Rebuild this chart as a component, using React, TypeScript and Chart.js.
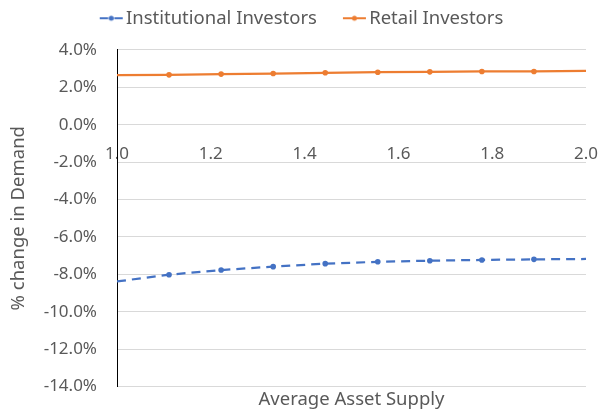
import React, { useEffect, useRef } from 'react';
import { Chart, registerables } from 'chart.js';

Chart.register(...registerables);

// ---- data ----
const supplyLevels = [1.0, 1.111, 1.222, 1.333, 1.444, 1.556, 1.667, 1.778, 1.889, 2.0];
const institutionalChange = [-8.38, -8.02, -7.77, -7.59, -7.43, -7.33, -7.27, -7.23, -7.2, -7.18];
const retailChange = [2.65, 2.67, 2.71, 2.74, 2.78, 2.81, 2.83, 2.85, 2.85, 2.88];
const seriesNames = ['Institutional Investors', 'Retail Investors'];
const xAxisTitle = 'Average Asset Supply';
const yAxisTitle = '% change in Demand';
const yMin = -14;
const yMax = 4;
const yStep = 2;
const xMin = 1;
const xMax = 2;
const xStep = 0.2;

const FONT = '"Noto Sans", sans-serif';
const TEXT = '#595959';
const BLUE = '#4472C4';
const ORANGE = '#ED7D31';

function legendSymbol(color: string, dashed: boolean): HTMLCanvasElement {
  const c = document.createElement('canvas');
  c.width = 50;
  c.height = 8;
  const g = c.getContext('2d')!;
  g.strokeStyle = color;
  g.fillStyle = color;
  g.lineWidth = 2;
  const left = 25;
  const right = 48;
  const mid = (left + right) / 2;
  g.beginPath();
  if (dashed) {
    g.moveTo(left, 4);
    g.lineTo(mid - 3, 4);
    g.moveTo(mid + 3, 4);
    g.lineTo(right, 4);
  } else {
    g.moveTo(left, 4);
    g.lineTo(right, 4);
  }
  g.stroke();
  g.beginPath();
  g.arc(mid, 4, 2.5, 0, Math.PI * 2);
  g.fill();
  return c;
}

function pointSizes(n: number): number[] {
  return supplyLevels.map((_, i) => (i === 0 || i === n - 1 ? 0 : 2.8));
}

const noSidePadding = (s: any) => {
  s.paddingLeft = 0;
  s.paddingRight = 0;
};

export default function App() {
  const ref = useRef<HTMLCanvasElement | null>(null);

  useEffect(() => {
    document.body.style.margin = '0';
    const canvas = ref.current;
    if (!canvas) return;
    const symbols = [legendSymbol(BLUE, true), legendSymbol(ORANGE, false)];
    const tickFont = { family: FONT, size: 17 };
    const textFont = { family: FONT, size: 18.5 };

    const chart = new Chart(canvas, {
      type: 'line',
      data: {
        datasets: [
          {
            label: seriesNames[0],
            data: supplyLevels.map((x, i) => ({ x, y: institutionalChange[i] })),
            borderColor: BLUE,
            backgroundColor: BLUE,
            borderWidth: 2.25,
            borderDash: [9, 6],
            pointRadius: pointSizes(supplyLevels.length),
            pointBorderWidth: 0,
            pointBackgroundColor: BLUE,
            tension: 0,
            fill: false,
          },
          {
            label: seriesNames[1],
            data: supplyLevels.map((x, i) => ({ x, y: retailChange[i] })),
            borderColor: ORANGE,
            backgroundColor: ORANGE,
            borderWidth: 2.25,
            pointRadius: pointSizes(supplyLevels.length),
            pointBorderWidth: 0,
            pointBackgroundColor: ORANGE,
            tension: 0,
            fill: false,
          },
        ],
      },
      options: {
        animation: false,
        responsive: false,
        maintainAspectRatio: false,
        layout: { padding: { top: 0, right: 17, left: 0, bottom: 0 } },
        plugins: {
          tooltip: { enabled: false },
          subtitle: {
            display: true,
            text: '',
            position: 'top',
            weight: 500,
            padding: 0,
            font: { family: FONT, size: 10.4 },
          },
          legend: {
            position: 'top',
            labels: {
              usePointStyle: true,
              pointStyleWidth: 34,
              padding: 9,
              color: TEXT,
              font: textFont,
              generateLabels: (ch: any) => {
                const items = Chart.defaults.plugins.legend.labels.generateLabels(ch);
                items.forEach((it: any, i: number) => {
                  it.pointStyle = symbols[i];
                });
                return items;
              },
            },
          },
        },
        scales: {
          x: {
            type: 'linear',
            position: 'bottom',
            min: xMin,
            max: xMax,
            ticks: { display: false },
            grid: { display: false, drawTicks: false },
            border: { display: false },
            title: {
              display: true,
              text: xAxisTitle,
              color: TEXT,
              font: textFont,
              padding: { top: 0, bottom: 8 },
            },
            afterFit: (s: any) => {
              s.height = 32.5;
              noSidePadding(s);
            },
          },
          xLabels: {
            type: 'linear',
            axis: 'x',
            position: { y: 0 },
            min: xMin,
            max: xMax,
            ticks: {
              stepSize: xStep,
              padding: 19.5,
              color: TEXT,
              font: tickFont,
              maxRotation: 0,
              autoSkip: false,
              callback: (v: any) => Number(v).toFixed(1),
            },
            grid: { display: false, drawTicks: false },
            border: { display: false },
            afterFit: noSidePadding,
          },
          y: {
            type: 'linear',
            min: yMin,
            max: yMax,
            ticks: {
              stepSize: yStep,
              padding: 20,
              color: TEXT,
              font: tickFont,
              callback: (v: any) => Number(v).toFixed(1) + '%',
            },
            grid: { color: '#d9d9d9', lineWidth: 1, drawTicks: false },
            border: { display: true, color: '#000000', width: 1 },
            title: {
              display: true,
              text: yAxisTitle,
              color: TEXT,
              font: textFont,
              padding: { top: 8, bottom: 0 },
            },
            afterFit: (s: any) => {
              s.width = 117;
            },
          },
        },
      } as any,
    });
    return () => chart.destroy();
  }, []);

  return (
    <div style={{ width: 603, height: 419 }}>
      <canvas ref={ref} width={603} height={419} style={{ display: 'block' }} />
    </div>
  );
}
